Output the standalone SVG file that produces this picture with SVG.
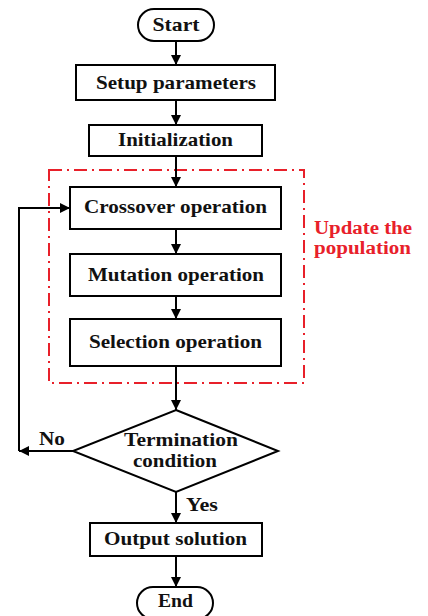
<svg xmlns="http://www.w3.org/2000/svg" width="428" height="616" viewBox="0 0 428 616">
<defs>
<style>
.box{fill:#fff;stroke:#000;stroke-width:2}
.t{font-family:"Liberation Serif","Times New Roman",serif;font-weight:bold;font-size:19px;fill:#111;text-anchor:middle}
.lbl{font-family:"Liberation Serif","Times New Roman",serif;font-weight:bold;font-size:19px;fill:#111}
.red{font-family:"Liberation Serif","Times New Roman",serif;font-weight:bold;font-size:18px;fill:#e8202a}
.c{fill:none;stroke:#000;stroke-width:2}
</style>
<marker id="ah" markerUnits="userSpaceOnUse" markerWidth="10" markerHeight="10" refX="10" refY="5" orient="auto">
<path d="M0,0 L10,5 L0,10 z" fill="#000"/>
</marker>
</defs>
<rect width="428" height="616" fill="#fff"/>
<g id="update-group">
<rect x="49" y="170" width="255" height="213" fill="none" stroke="#e8202a" stroke-width="2" stroke-dasharray="13,5,2,5"/>
<text class="red" x="314" y="234" textLength="98" lengthAdjust="spacingAndGlyphs">Update the</text>
<text class="red" x="314" y="254" textLength="97" lengthAdjust="spacingAndGlyphs">population</text>
</g>
<g id="connectors">
<line class="c" x1="176" y1="41" x2="176" y2="65" marker-end="url(#ah)"/>
<line class="c" x1="176" y1="100" x2="176" y2="125" marker-end="url(#ah)"/>
<line class="c" x1="176" y1="156" x2="176" y2="187" marker-end="url(#ah)"/>
<line class="c" x1="176" y1="229" x2="176" y2="254" marker-end="url(#ah)"/>
<line class="c" x1="176" y1="296" x2="176" y2="319" marker-end="url(#ah)"/>
<line class="c" x1="176" y1="366" x2="176" y2="410" marker-end="url(#ah)"/>
<line class="c" x1="73" y1="451" x2="19" y2="451" marker-end="url(#ah)"/>
<polyline class="c" points="19,451 19,208 70,208" marker-end="url(#ah)"/>
<line class="c" x1="176" y1="492" x2="176" y2="523" marker-end="url(#ah)"/>
<line class="c" x1="176" y1="556" x2="176" y2="587" marker-end="url(#ah)"/>
<text class="lbl" x="39" y="445" textLength="26" lengthAdjust="spacingAndGlyphs">No</text>
<text class="lbl" x="186" y="511" textLength="32" lengthAdjust="spacingAndGlyphs">Yes</text>
</g>
<g id="start">
<rect class="box" x="138" y="9" width="76" height="32" rx="16" ry="16"/>
<text class="t" x="176" y="31" textLength="47" lengthAdjust="spacingAndGlyphs">Start</text>
</g>
<g id="setup">
<rect class="box" x="76" y="65" width="199" height="35"/>
<text class="t" x="176" y="89" textLength="160" lengthAdjust="spacingAndGlyphs">Setup parameters</text>
</g>
<g id="init">
<rect class="box" x="89" y="125" width="173" height="31"/>
<text class="t" x="175.5" y="146" textLength="115" lengthAdjust="spacingAndGlyphs">Initialization</text>
</g>
<g id="crossover">
<rect class="box" x="70" y="187" width="211" height="42"/>
<text class="t" x="175.5" y="213" textLength="183" lengthAdjust="spacingAndGlyphs">Crossover operation</text>
</g>
<g id="mutation">
<rect class="box" x="70" y="254" width="211" height="42"/>
<text class="t" x="176" y="281" textLength="176" lengthAdjust="spacingAndGlyphs">Mutation operation</text>
</g>
<g id="selection">
<rect class="box" x="70" y="319" width="211" height="47"/>
<text class="t" x="175.5" y="348" textLength="173" lengthAdjust="spacingAndGlyphs">Selection operation</text>
</g>
<g id="termination">
<polygon class="box" points="176,410 278,451 176,492 73,451"/>
<text class="t" x="181" y="446" textLength="114" lengthAdjust="spacingAndGlyphs">Termination</text>
<text class="t" x="175" y="467" textLength="84" lengthAdjust="spacingAndGlyphs">condition</text>
</g>
<g id="output">
<rect class="box" x="90" y="523" width="172" height="33"/>
<text class="t" x="175.5" y="545" textLength="143" lengthAdjust="spacingAndGlyphs">Output solution</text>
</g>
<g id="end">
<rect class="box" x="137" y="587" width="76" height="32" rx="16" ry="16"/>
<text class="t" x="175.5" y="607" textLength="35" lengthAdjust="spacingAndGlyphs">End</text>
</g>
</svg>
